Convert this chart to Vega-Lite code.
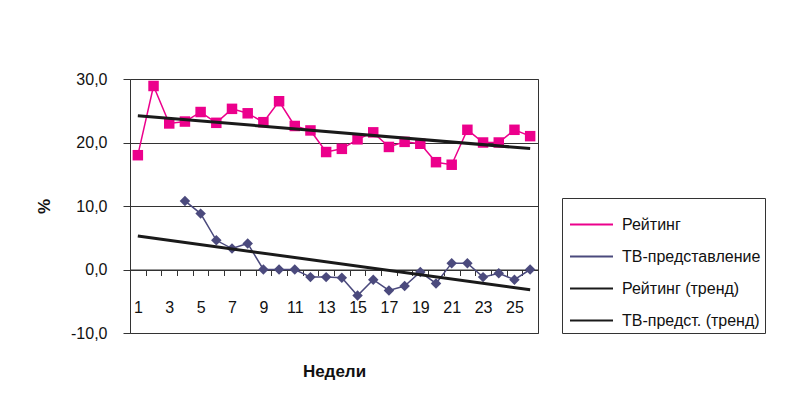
{
  "$schema": "https://vega.github.io/schema/vega-lite/v6.json",
  "autosize": "none",
  "width": 408,
  "height": 254,
  "padding": {"left": 130, "top": 79, "right": 253, "bottom": 72},
  "background": "white",
  "config": {
    "font": "Liberation Sans",
    "view": {"stroke": "#333333", "strokeWidth": 1}
  },
  "data": {
    "values": [
      {"week": 1, "series": "Рейтинг", "trend": "Рейтинг (тренд)", "value": 18.0},
      {"week": 2, "series": "Рейтинг", "trend": "Рейтинг (тренд)", "value": 28.9},
      {"week": 3, "series": "Рейтинг", "trend": "Рейтинг (тренд)", "value": 23.0},
      {"week": 4, "series": "Рейтинг", "trend": "Рейтинг (тренд)", "value": 23.3},
      {"week": 5, "series": "Рейтинг", "trend": "Рейтинг (тренд)", "value": 24.8},
      {"week": 6, "series": "Рейтинг", "trend": "Рейтинг (тренд)", "value": 23.1},
      {"week": 7, "series": "Рейтинг", "trend": "Рейтинг (тренд)", "value": 25.3},
      {"week": 8, "series": "Рейтинг", "trend": "Рейтинг (тренд)", "value": 24.6},
      {"week": 9, "series": "Рейтинг", "trend": "Рейтинг (тренд)", "value": 23.2},
      {"week": 10, "series": "Рейтинг", "trend": "Рейтинг (тренд)", "value": 26.5},
      {"week": 11, "series": "Рейтинг", "trend": "Рейтинг (тренд)", "value": 22.6},
      {"week": 12, "series": "Рейтинг", "trend": "Рейтинг (тренд)", "value": 21.9},
      {"week": 13, "series": "Рейтинг", "trend": "Рейтинг (тренд)", "value": 18.5},
      {"week": 14, "series": "Рейтинг", "trend": "Рейтинг (тренд)", "value": 19.0},
      {"week": 15, "series": "Рейтинг", "trend": "Рейтинг (тренд)", "value": 20.5},
      {"week": 16, "series": "Рейтинг", "trend": "Рейтинг (тренд)", "value": 21.6},
      {"week": 17, "series": "Рейтинг", "trend": "Рейтинг (тренд)", "value": 19.3},
      {"week": 18, "series": "Рейтинг", "trend": "Рейтинг (тренд)", "value": 20.1},
      {"week": 19, "series": "Рейтинг", "trend": "Рейтинг (тренд)", "value": 19.8},
      {"week": 20, "series": "Рейтинг", "trend": "Рейтинг (тренд)", "value": 16.9},
      {"week": 21, "series": "Рейтинг", "trend": "Рейтинг (тренд)", "value": 16.5},
      {"week": 22, "series": "Рейтинг", "trend": "Рейтинг (тренд)", "value": 22.0},
      {"week": 23, "series": "Рейтинг", "trend": "Рейтинг (тренд)", "value": 20.0},
      {"week": 24, "series": "Рейтинг", "trend": "Рейтинг (тренд)", "value": 20.0},
      {"week": 25, "series": "Рейтинг", "trend": "Рейтинг (тренд)", "value": 22.0},
      {"week": 26, "series": "Рейтинг", "trend": "Рейтинг (тренд)", "value": 21.0},
      {"week": 4, "series": "ТВ-представление", "trend": "ТВ-предст. (тренд)", "value": 10.8},
      {"week": 5, "series": "ТВ-представление", "trend": "ТВ-предст. (тренд)", "value": 8.8},
      {"week": 6, "series": "ТВ-представление", "trend": "ТВ-предст. (тренд)", "value": 4.6},
      {"week": 7, "series": "ТВ-представление", "trend": "ТВ-предст. (тренд)", "value": 3.3},
      {"week": 8, "series": "ТВ-представление", "trend": "ТВ-предст. (тренд)", "value": 4.1},
      {"week": 9, "series": "ТВ-представление", "trend": "ТВ-предст. (тренд)", "value": 0.0},
      {"week": 10, "series": "ТВ-представление", "trend": "ТВ-предст. (тренд)", "value": 0.0},
      {"week": 11, "series": "ТВ-представление", "trend": "ТВ-предст. (тренд)", "value": 0.0},
      {"week": 12, "series": "ТВ-представление", "trend": "ТВ-предст. (тренд)", "value": -1.2},
      {"week": 13, "series": "ТВ-представление", "trend": "ТВ-предст. (тренд)", "value": -1.2},
      {"week": 14, "series": "ТВ-представление", "trend": "ТВ-предст. (тренд)", "value": -1.3},
      {"week": 15, "series": "ТВ-представление", "trend": "ТВ-предст. (тренд)", "value": -4.1},
      {"week": 16, "series": "ТВ-представление", "trend": "ТВ-предст. (тренд)", "value": -1.6},
      {"week": 17, "series": "ТВ-представление", "trend": "ТВ-предст. (тренд)", "value": -3.3},
      {"week": 18, "series": "ТВ-представление", "trend": "ТВ-предст. (тренд)", "value": -2.6},
      {"week": 19, "series": "ТВ-представление", "trend": "ТВ-предст. (тренд)", "value": -0.4},
      {"week": 20, "series": "ТВ-представление", "trend": "ТВ-предст. (тренд)", "value": -2.2},
      {"week": 21, "series": "ТВ-представление", "trend": "ТВ-предст. (тренд)", "value": 1.0},
      {"week": 22, "series": "ТВ-представление", "trend": "ТВ-предст. (тренд)", "value": 1.0},
      {"week": 23, "series": "ТВ-представление", "trend": "ТВ-предст. (тренд)", "value": -1.2},
      {"week": 24, "series": "ТВ-представление", "trend": "ТВ-предст. (тренд)", "value": -0.6},
      {"week": 25, "series": "ТВ-представление", "trend": "ТВ-предст. (тренд)", "value": -1.6},
      {"week": 26, "series": "ТВ-представление", "trend": "ТВ-предст. (тренд)", "value": 0.0}
    ]
  },
  "encoding": {
    "x": {
      "field": "week",
      "type": "quantitative",
      "scale": {"domain": [0.5, 26.5], "nice": false, "zero": false},
      "axis": {
        "title": "Недели",
        "titleFontSize": 17,
        "titleFontWeight": "bold",
        "titleColor": "#111111",
        "titlePadding": 48,
        "values": [0.5, 1, 1.5, 2, 2.5, 3, 3.5, 4, 4.5, 5, 5.5, 6, 6.5, 7, 7.5, 8, 8.5, 9, 9.5, 10, 10.5, 11, 11.5, 12, 12.5, 13, 13.5, 14, 14.5, 15, 15.5, 16, 16.5, 17, 17.5, 18, 18.5, 19, 19.5, 20, 20.5, 21, 21.5, 22, 22.5, 23, 23.5, 24, 24.5, 25, 25.5, 26, 26.5],
        "labelExpr": "datum.value % 2 == 1 ? '' + datum.value : ''",
        "labelOverlap": false,
        "labelFontSize": 16,
        "labelColor": "#111111",
        "labelPadding": 24,
        "labelDx": 2,
        "labelFlush": false,
        "offset": -63.5,
        "grid": false,
        "domain": true,
        "domainColor": "#333333",
        "tickColor": "#333333",
        "tickSize": 6,
        "tickOpacity": {"condition": {"test": "datum.value % 1 == 0", "value": 0}, "value": 1}
      }
    },
    "y": {
      "field": "value",
      "type": "quantitative",
      "scale": {"domain": [-10, 30], "nice": false},
      "axis": {
        "title": "%",
        "titleFontSize": 17,
        "titleFontWeight": "bold",
        "titleColor": "#111111",
        "titlePadding": 17,
        "values": [-10, 0, 10, 20, 30],
        "labelExpr": "datum.value + ',0'",
        "labelFontSize": 16,
        "labelColor": "#111111",
        "labelPadding": 16,
        "tickSize": 7,
        "tickColor": "#333333",
        "domain": false,
        "grid": true,
        "gridColor": "#333333",
        "gridOpacity": 1
      }
    }
  },
  "layer": [
    {
      "mark": {"type": "line", "strokeWidth": 1.5},
      "encoding": {
        "color": {
          "field": "series",
          "type": "nominal",
          "scale": {
            "domain": ["Рейтинг", "ТВ-представление", "Рейтинг (тренд)", "ТВ-предст. (тренд)"],
            "range": ["#EC008C", "#4B4A7D", "#1A1A1A", "#1A1A1A"]
          },
          "legend": {
            "title": null,
            "orient": "none",
            "legendX": 432,
            "legendY": 119,
            "padding": 4,
            "strokeColor": "#333333",
            "fillColor": "white",
            "symbolSize": 484,
            "symbolOffset": 3,
            "rowPadding": 1,
            "labelOffset": 8,
            "labelFontSize": 16,
            "labelColor": "#111111",
            "labelLimit": 300,
            "encode": {
              "symbols": {
                "update": {
                  "shape": {
                    "condition": [
                      {"test": "datum.value === 'Рейтинг'", "value": "M-1,0H1M-0.22,-0.22H0.22V0.22H-0.22Z"},
                      {"test": "datum.value === 'ТВ-представление'", "value": "M-1,0H1M-0.24,0L0,-0.24L0.24,0L0,0.24Z"}
                    ],
                    "value": "M-1,0H1"
                  },
                  "size": {"value": 1849},
                  "strokeWidth": {"condition": {"test": "indexof(datum.value, 'тренд') >= 0", "value": 3}, "value": 2}
                }
              }
            }
          }
        }
      }
    },
    {
      "mark": {"type": "point", "filled": true, "size": 110, "opacity": 1},
      "encoding": {
        "color": {"field": "series", "type": "nominal"},
        "shape": {
          "field": "series",
          "type": "nominal",
          "scale": {"domain": ["Рейтинг", "ТВ-представление"], "range": ["square", "diamond"]},
          "legend": null
        }
      }
    },
    {
      "transform": [
        {"regression": "value", "on": "week", "groupby": ["trend"], "extent": [1, 26]}
      ],
      "mark": {"type": "line", "strokeWidth": 3},
      "encoding": {
        "color": {"field": "trend", "type": "nominal"}
      }
    }
  ]
}
